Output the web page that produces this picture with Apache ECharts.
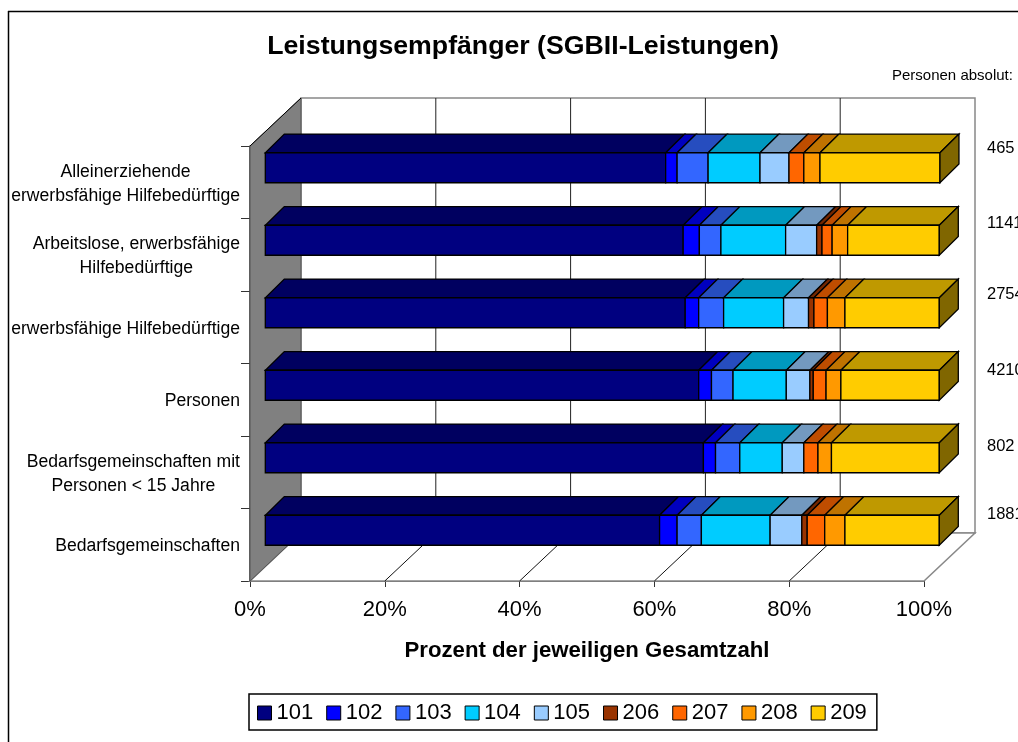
<!DOCTYPE html>
<html>
<head>
<meta charset="utf-8">
<style>html,body{margin:0;padding:0;background:#fff}#c{width:1018px;height:742px}</style>
<script src="https://cdn.jsdelivr.net/npm/echarts@6/dist/echarts.min.js"></script>
</head>
<body>
<div id="c"></div>
<script>
const categories = [
  'Alleinerziehende\nerwerbsfähige Hilfebedürftige',
  'Arbeitslose, erwerbsfähige\nHilfebedürftige',
  'erwerbsfähige Hilfebedürftige',
  'Personen',
  'Bedarfsgemeinschaften mit\nPersonen < 15 Jahre',
  'Bedarfsgemeinschaften'
];
const seriesNames = ['101','102','103','104','105','206','207','208','209'];
const s101 = [59.4, 62.0, 62.3, 64.3, 65.0, 58.5];
const s102 = [1.7, 2.4, 2.0, 1.9, 1.8, 2.6];
const s103 = [4.6, 3.2, 3.7, 3.2, 3.6, 3.6];
const s104 = [7.7, 9.6, 8.9, 7.9, 6.3, 10.2];
const s105 = [4.3, 4.6, 3.7, 3.5, 3.2, 4.7];
const s206 = [0, 0.8, 0.8, 0.5, 0, 0.8];
const s207 = [2.2, 1.5, 2.0, 1.9, 2.1, 2.6];
const s208 = [2.4, 2.3, 2.6, 2.2, 2.0, 3.0];
const s209 = [17.8, 13.6, 14.0, 14.6, 16.0, 14.0];
const seriesValues = [s101,s102,s103,s104,s105,s206,s207,s208,s209];
const absoluteLabels = ['465','1141','2754','4210','802','1881'];
const absoluteLabelY = [148,223,294,370,446,514];

const colors  = ['#000080','#0000FF','#3366FF','#00CCFF','#99CCFF','#993300','#FF6600','#FF9900','#FFCC00'];
const topCols = ['#000060','#0000BF','#264DBF','#0099BF','#7399BF','#732600','#BF4D00','#BF7300','#BF9900'];
const sideCol = '#806600';
const FONT = '"Liberation Sans", Arial, sans-serif';

const WALL = [51, -48];
const BAR_NEAR = [15.3, -14.5];
const BAR_DEPTH = [19, -18.7];
const BAR_H = 30;

function renderBox(params, api) {
  const cs = params.coordSys;
  const L = cs.x, R = cs.x + cs.width, T = cs.y, B = cs.y + cs.height;
  const dx = WALL[0], dy = WALL[1];
  const kids = [];
  const poly = (pts, fill, stroke, lw) => kids.push({type:'polygon', shape:{points:pts},
    style:{fill:fill, stroke:stroke, lineWidth:lw||1}});
  const line = (a, b, stroke, lw) => kids.push({type:'line', shape:{x1:a[0],y1:a[1],x2:b[0],y2:b[1]},
    style:{stroke:stroke, lineWidth:lw||1}});
  poly([[L+dx,T+dy],[R+dx,T+dy],[R+dx,B+dy],[L+dx,B+dy]], '#fff', '#888', 1.5);
  poly([[L,B],[R,B],[R+dx,B+dy],[L+dx,B+dy]], '#fff', '#888', 1.5);
  poly([[L,T],[L+dx,T+dy],[L+dx,B+dy],[L,B]], '#808080', '#555', 1);
  line([L,T],[L+dx,T+dy],'#000',1);
  [20,40,60,80].forEach(v => {
    const x = api.coord([v, 0])[0];
    line([x+dx,T+dy],[x+dx,B+dy],'#222',1);
    line([x,B],[x+dx,B+dy],'#111',1);
  });
  return {type:'group', children:kids};
}

function renderBar(params, api) {
  const start = api.value(0), end = api.value(1), cat = api.value(2);
  if (end <= start) return null;
  const p0 = api.coord([start, cat]), p1 = api.coord([end, cat]);
  const x0 = p0[0] + BAR_NEAR[0], x1 = p1[0] + BAR_NEAR[0];
  const yc = p0[1] + BAR_NEAR[1], yt = yc - BAR_H/2, yb = yc + BAR_H/2;
  const ddx = BAR_DEPTH[0], ddy = BAR_DEPTH[1];
  const idx = params.seriesIndex - 1;
  const st = {stroke:'#000', lineWidth:1.3};
  const kids = [
    {type:'polygon', shape:{points:[[x0,yt],[x1,yt],[x1+ddx,yt+ddy],[x0+ddx,yt+ddy]]},
      style:Object.assign({fill:topCols[idx]}, st)},
    {type:'polygon', shape:{points:[[x0,yt],[x1,yt],[x1,yb],[x0,yb]]},
      style:Object.assign({fill:colors[idx]}, st)}
  ];
  if (idx === seriesNames.length - 1) {
    kids.push({type:'polygon', shape:{points:[[x1,yt],[x1+ddx,yt+ddy],[x1+ddx,yb+ddy],[x1,yb]]},
      style:Object.assign({fill:sideCol}, st)});
  }
  return {type:'group', children:kids};
}

const barSeries = seriesNames.map((name, i) => ({
  name, type:'custom', renderItem:renderBar, z:3,
  itemStyle:{color:colors[i]},
  encode:{x:[0,1], y:2},
  data: categories.map((_, c) => {
    let from = 0;
    for (let k = 0; k < i; k++) from += seriesValues[k][c];
    return [from, from + seriesValues[i][c], c];
  })
}));

const richAll = {c:{align:'center', fontFamily:FONT, fontSize:17.6, color:'#000', lineHeight:24}};

const chart = echarts.init(document.getElementById('c'), null, {renderer:'canvas'});
chart.setOption({
  animation:false,
  backgroundColor:'#fff',
  title:{text:'Leistungsempfänger (SGBII-Leistungen)', left:518, top:28, textAlign:'center',
    textStyle:{fontFamily:FONT, fontWeight:'bold', fontSize:26.7, color:'#000'}},
  grid:{left:250, top:146, width:674, height:435, containLabel:false},
  xAxis:{type:'value', min:0, max:100, interval:20,
    name:'Prozent der jeweiligen Gesamtzahl', nameLocation:'middle', nameGap:59,
    nameTextStyle:{fontFamily:FONT, fontWeight:'bold', fontSize:22.2, color:'#000'},
    axisLine:{show:true, onZero:false, lineStyle:{color:'#333', width:1.5}},
    axisTick:{show:true, length:6, lineStyle:{color:'#333', width:1}},
    axisLabel:{formatter:'{value}%', fontFamily:FONT, fontSize:22, color:'#000', margin:18, hideOverlap:false},
    splitLine:{show:false}},
  yAxis:{type:'category', inverse:true, data:categories,
    axisLine:{show:true, lineStyle:{color:'#333', width:1.5}},
    axisTick:{show:true, length:9, alignWithLabel:false, lineStyle:{color:'#333', width:1}},
    axisLabel:{margin:10, interval:0, align:'right', padding:[3,0,0,0],
      formatter:v => v.split('\n').map(l => '{c|' + l + '}').join('\n'), rich:richAll},
    splitLine:{show:false}},
  legend:{show:true, left:249, top:694, orient:'horizontal', data:seriesNames, icon:'rect',
    itemWidth:14, itemHeight:14, itemGap:13, padding:[8,10,6,8],
    borderColor:'#000', borderWidth:1.5, backgroundColor:'#fff',
    itemStyle:{borderColor:'#000', borderWidth:1},
    textStyle:{fontFamily:FONT, fontSize:22, color:'#000'}, selectedMode:false},
  graphic:{elements:[
    {type:'line', shape:{x1:8,y1:11.5,x2:1018,y2:11.5}, style:{stroke:'#000',lineWidth:1.5}, silent:true},
    {type:'line', shape:{x1:8.5,y1:11,x2:8.5,y2:742}, style:{stroke:'#000',lineWidth:1.5}, silent:true},
    {type:'text', left:892, top:68, style:{text:'Personen absolut:', font:'15px '+FONT, fill:'#000'}, silent:true}
  ].concat(absoluteLabels.map((t,i)=>({type:'text', left:987, top:absoluteLabelY[i]-8,
    style:{text:t, font:'16.5px '+FONT, fill:'#000'}, silent:true})))},
  series:[{type:'custom', name:'box', renderItem:renderBox, silent:true, z:1,
    encode:{x:0,y:1}, data:[[0,0]]}].concat(barSeries)
});
</script>
</body>
</html>
